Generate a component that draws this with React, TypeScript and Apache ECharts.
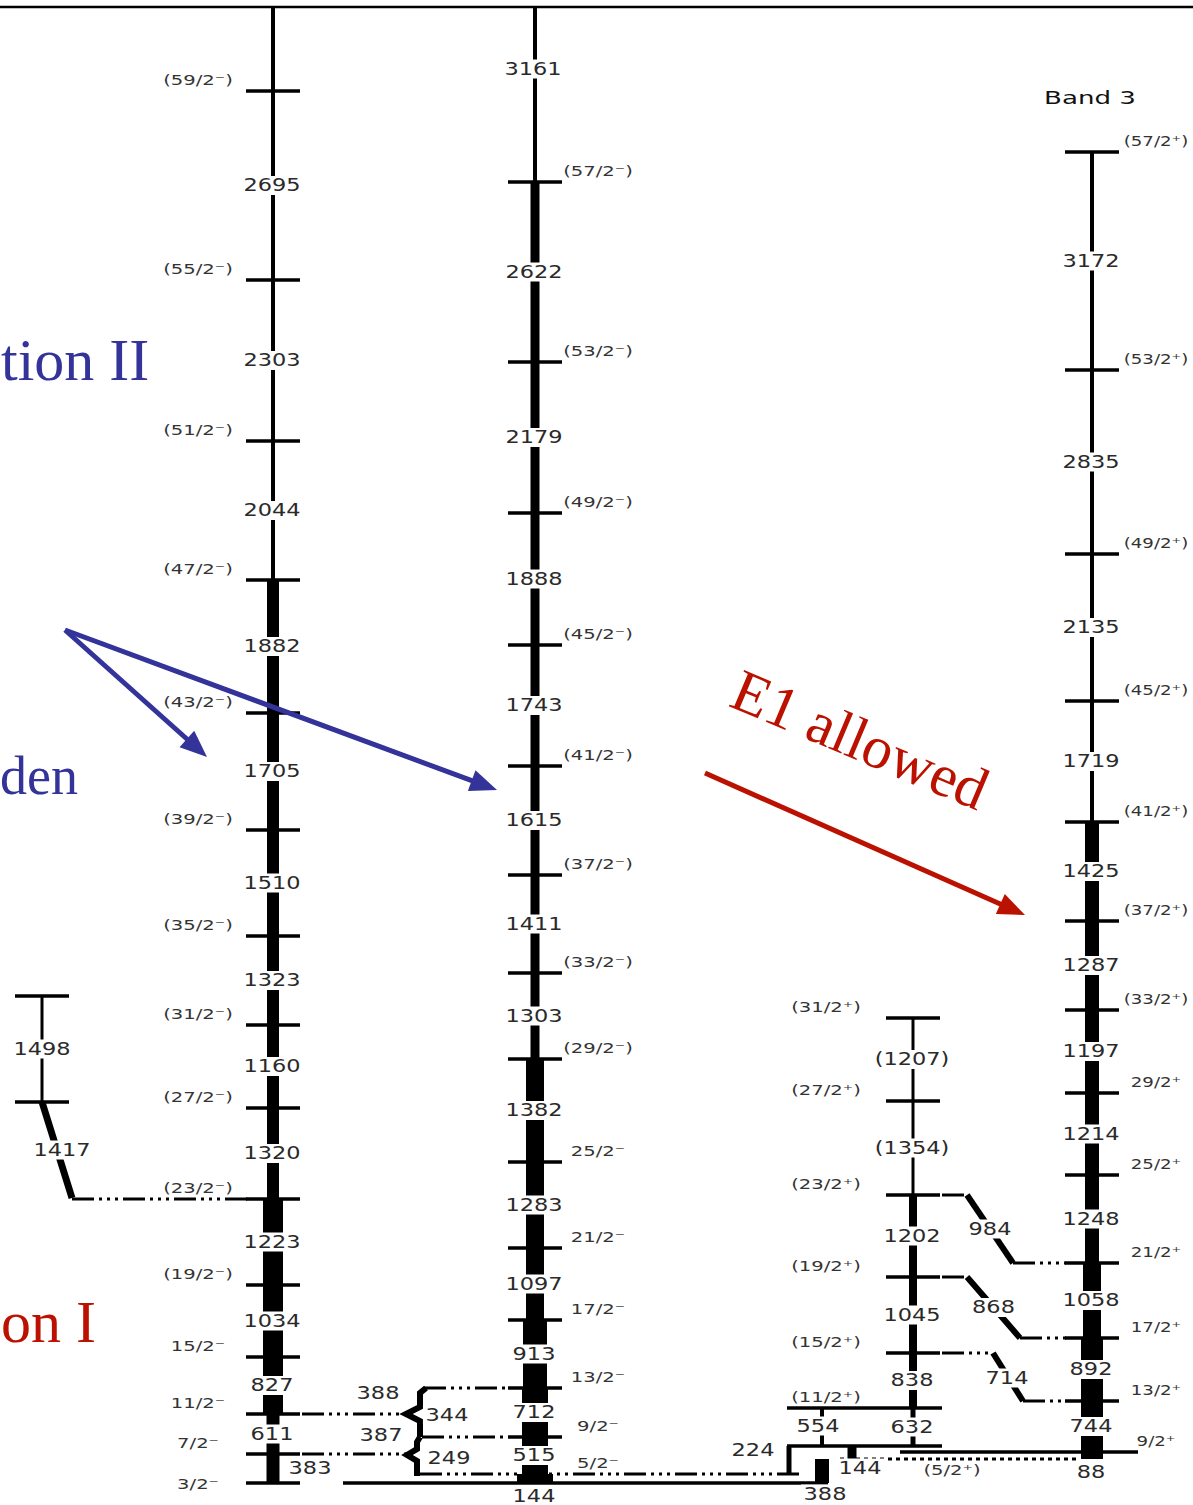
import React, { useEffect, useRef } from "react";
import * as echarts from "echarts";

const CHART_W = 1193;
const CHART_H = 1505;

// ---------------- level scheme data (diagram units: x across, y downward) ----------------
const bandCenters = { E: 42, A: 273, B: 535, C: 913, D: 1092 };
const spinLabelX = { E: 0, A: 198, B: 598, C: 826, D: 1156 };

// Band E (far left)
const levelsE = [996, 1102];
const spinsE = ["", ""];
const gammasE = ["1498"];
const intensityE = [3];

// Band A (negative parity, left)
const levelsA = [91, 280, 441, 580, 713, 830, 936, 1025, 1108, 1199, 1285, 1357, 1414, 1454, 1483];
const spinsA = ["(59/2⁻)", "(55/2⁻)", "(51/2⁻)", "(47/2⁻)", "(43/2⁻)", "(39/2⁻)", "(35/2⁻)", "(31/2⁻)", "(27/2⁻)", "(23/2⁻)", "(19/2⁻)", "15/2⁻", "11/2⁻", "7/2⁻", "3/2⁻"];
const gammasA = ["2695", "2303", "2044", "1882", "1705", "1510", "1323", "1160", "1320", "1223", "1034", "827", "611", "383"];
const intensityA = [4, 4, 4, 12, 12, 12, 12, 12, 12, 20, 20, 20, 13, 13];

// Band B (negative parity, middle)
const levelsB = [182, 362, 513, 645, 766, 875, 973, 1059, 1162, 1248, 1320, 1388, 1437, 1474, 1483];
const spinsB = ["(57/2⁻)", "(53/2⁻)", "(49/2⁻)", "(45/2⁻)", "(41/2⁻)", "(37/2⁻)", "(33/2⁻)", "(29/2⁻)", "25/2⁻", "21/2⁻", "17/2⁻", "13/2⁻", "9/2⁻", "5/2⁻", ""];
const gammasB = ["2622", "2179", "1888", "1743", "1615", "1411", "1303", "1382", "1283", "1097", "913", "712", "515", "144"];
const intensityB = [9, 9, 9, 9, 9, 9, 9, 18, 18, 18, 24, 26, 26, 36];
const topGammaB = "3161";
const topIntensityA = 4;
const topIntensityB = 4;

// Band C (positive parity, side band)
const levelsC = [1018, 1101, 1195, 1277, 1353, 1408, 1446];
const spinsC = ["(31/2⁺)", "(27/2⁺)", "(23/2⁺)", "(19/2⁺)", "(15/2⁺)", "(11/2⁺)", ""];
const gammasC = ["(1207)", "(1354)", "1202", "1045", "838", "632"];
const intensityC = [3, 3, 8, 8, 8, 5];

// Band D ("Band 3", positive parity)
const levelsD = [152, 370, 554, 701, 822, 921, 1010, 1093, 1175, 1263, 1338, 1401, 1452, 1459];
const spinsD = ["(57/2⁺)", "(53/2⁺)", "(49/2⁺)", "(45/2⁺)", "(41/2⁺)", "(37/2⁺)", "(33/2⁺)", "29/2⁺", "25/2⁺", "21/2⁺", "17/2⁺", "13/2⁺", "9/2⁺", ""];
const gammasD = ["3172", "2835", "2135", "1719", "1425", "1287", "1197", "1214", "1248", "1058", "892", "744", "88"];
const intensityD = [4, 4, 4, 4, 14, 14, 14, 14, 14, 18, 22, 22, 22];

// Inter-band transitions: label, from (x,y) to (x,y) of the thick diagonal part
const linkLabels = ["1417", "984", "868", "714"];
const linkDiagonals = [
  [42, 1102, 72, 1198],
  [967, 1195, 1013, 1263],
  [967, 1277, 1020, 1338],
  [993, 1353, 1023, 1401],
];
const linkDashes = [
  [72, 1199, 248, 1199],
  [942, 1195, 967, 1195], [1013, 1263, 1066, 1263],
  [942, 1277, 967, 1277], [1020, 1338, 1066, 1338],
  [942, 1353, 993, 1353], [1023, 1401, 1066, 1401],
  [302, 1414, 406, 1414],
  [302, 1454, 408, 1454],
  [424, 1388, 507, 1388],
  [422, 1437, 507, 1437],
];
// brace transitions between band A and band B
const braceLabels = ["388", "344", "387", "249"];
const braceLabelPos = [[378, 1393], [447, 1415], [381, 1435], [449, 1458]];
const braces = [
  [[426, 1388], [420, 1393], [420, 1407], [406, 1414], [420, 1421], [420, 1437]],
  [[420, 1437], [417, 1442], [417, 1449], [407, 1455], [417, 1461], [417, 1476]],
];
// low-lying transitions (bottom right)
const lowLabels = ["554", "224", "144", "388"];
const lowLabelPos = [[818, 1426], [753, 1450], [860, 1468], [825, 1494]];
const lowBars = [[822, 1408, 1446, 4], [789, 1446, 1474, 5], [852, 1446, 1459, 9], [822, 1459, 1483, 14]];

// special level extents: [band, levelIndex, x1, x2, kind(0 solid,1 dash-dot,2 dotted)]
const levelOverrides: [string, number, number, number, number][] = [
  ["B", 13, 420, 800, 1],
  ["B", 14, 343, 828, 0],
  ["C", 5, 787, 942, 0],
  ["C", 6, 787, 942, 0],
  ["D", 12, 900, 1138, 0],
  ["D", 13, 840, 1080, 2],
];

const BLUE = "#333399";
const RED = "#BB1100";
const arrows = [
  [65, 630, 207, 757, 0],
  [65, 630, 497, 790, 0],
  [705, 773, 1025, 915, 1],
];

// ---------------- build drawing rows ----------------
type Band = { key: string; cx: number; levels: number[]; spins: string[]; gammas: string[]; intensity: number[] };
const bands: Band[] = [
  { key: "E", cx: bandCenters.E, levels: levelsE, spins: spinsE, gammas: gammasE, intensity: intensityE },
  { key: "A", cx: bandCenters.A, levels: levelsA, spins: spinsA, gammas: gammasA, intensity: intensityA },
  { key: "B", cx: bandCenters.B, levels: levelsB, spins: spinsB, gammas: gammasB, intensity: intensityB },
  { key: "C", cx: bandCenters.C, levels: levelsC, spins: spinsC, gammas: gammasC, intensity: intensityC },
  { key: "D", cx: bandCenters.D, levels: levelsD, spins: spinsD, gammas: gammasD, intensity: intensityD },
];

const HALF = 27;
const segs: number[][] = [];
const bars: number[][] = [];
const diags: number[][] = [];
type TRow = { x: number; y: number; text: string; kind: number };
const texts: TRow[] = [];

segs.push([0, 7, CHART_W, 7, 2.5, 0]);

bands.forEach((b) => {
  b.levels.forEach((y, i) => {
    const ov = levelOverrides.find((o) => o[0] === b.key && o[1] === i);
    if (ov) segs.push([ov[2], y, ov[3], y, ov[4] === 0 ? 3.5 : 3, ov[4]]);
    else segs.push([b.cx - HALF, y, b.cx + HALF, y, 3.5, 0]);
    const s = b.spins[i];
    if (s) {
      const dy = b.key === "A" && i === b.levels.length - 1 ? 1 : -11;
      texts.push({ x: (spinLabelX as any)[b.key], y: y + dy, text: s, kind: b.key === "D" ? 3 : 1 });
    }
  });
  b.gammas.forEach((g, i) => {
    const y1 = b.levels[i];
    const y2 = b.levels[i + 1];
    bars.push([b.cx, y1, y2, b.intensity[i]]);
    let lx = b.cx - 1;
    let ly = (y1 + y2) / 2;
    if (b.key === "A" && g === "383") lx = b.cx + 37;
    if (b.key === "B" && g === "144") ly = y2 + 13;
    if (b.key === "D" && g === "88") ly = y2 + 13;
    if (b.key === "E") lx = b.cx;
    texts.push({ x: lx, y: ly, text: g, kind: 0 });
  });
});

// top extensions up to the frame
bars.push([bandCenters.A, 7, levelsA[0], topIntensityA]);
bars.push([bandCenters.B, 7, levelsB[0], topIntensityB]);
texts.push({ x: bandCenters.B - 2, y: 69, text: topGammaB, kind: 0 });

linkDiagonals.forEach((d, i) => {
  diags.push([d[0], d[1], d[2], d[3], i === 0 ? 7 : 6]);
  texts.push({ x: (d[0] + d[2]) / 2 + (i === 0 ? 5 : i === 3 ? -1 : 0), y: (d[1] + d[3]) / 2 + (i === 3 ? 1 : 0), text: linkLabels[i], kind: 0 });
});
linkDashes.forEach((d) => segs.push([d[0], d[1], d[2], d[3], 3, 1]));
braceLabels.forEach((l, i) => texts.push({ x: braceLabelPos[i][0], y: braceLabelPos[i][1], text: l, kind: 0 }));
lowBars.forEach((b) => bars.push(b));
lowLabels.forEach((l, i) => texts.push({ x: lowLabelPos[i][0], y: lowLabelPos[i][1], text: l, kind: 0 }));
texts.push({ x: 952, y: 1470, text: "(5/2⁺)", kind: 1 });
texts.push({ x: 1090, y: 98, text: "Band 3", kind: 2 });

const textKinds = [
  { font: "17px 'DejaVu Sans', sans-serif", scaleX: 1.32, fill: "#2a2a2a", bg: "#ffffff" },
  { font: "14px 'DejaVu Sans', sans-serif", scaleX: 1.4, fill: "#333333", bg: "" },
  { font: "18px 'DejaVu Sans', sans-serif", scaleX: 1.45, fill: "#111111", bg: "" },
  { font: "14px 'DejaVu Sans', sans-serif", scaleX: 1.3, fill: "#333333", bg: "" },
];

const DASHDOT = [22, 5, 3, 5, 3, 5, 3, 5];
const SERIF = "60px 'Liberation Serif', 'DejaVu Serif', serif";

export default function App() {
  const ref = useRef<HTMLDivElement>(null);
  useEffect(() => {
    document.body.style.margin = "0";
    if (!ref.current) return;
    const chart = echarts.init(ref.current, undefined, { renderer: "svg" });

    const option: any = {
      animation: false,
      backgroundColor: "#ffffff",
      grid: { left: 0, right: 0, top: 0, bottom: 0 },
      xAxis: { type: "value", min: 0, max: CHART_W, show: false },
      yAxis: { type: "value", min: 0, max: CHART_H, inverse: true, show: false },
      series: [
        {
          type: "custom",
          name: "transitions",
          coordinateSystem: "cartesian2d",
          silent: true,
          data: bars.map((b) => [b[0], b[1], b[2], b[3]]),
          encode: { x: 0, y: 1 },
          renderItem: (params: any, api: any) => {
            const b = bars[params.dataIndex];
            const p1 = api.coord([b[0], b[1]]);
            const p2 = api.coord([b[0], b[2]]);
            const w = b[3];
            return {
              type: "rect",
              shape: { x: p1[0] - w / 2, y: Math.min(p1[1], p2[1]), width: w, height: Math.abs(p2[1] - p1[1]) },
              style: { fill: "#000" },
            };
          },
        },
        {
          type: "custom",
          name: "levels",
          coordinateSystem: "cartesian2d",
          silent: true,
          data: segs.map((s) => [s[0], s[1]]),
          encode: { x: 0, y: 1 },
          renderItem: (params: any, api: any) => {
            const s = segs[params.dataIndex];
            const p1 = api.coord([s[0], s[1]]);
            const p2 = api.coord([s[2], s[3]]);
            const kind = s[5];
            return {
              type: "line",
              shape: { x1: p1[0], y1: p1[1], x2: p2[0], y2: p2[1] },
              style: {
                stroke: "#000",
                lineWidth: s[4],
                lineDash: kind === 1 ? DASHDOT : kind === 2 ? [4, 4] : null,
                lineCap: "butt",
              },
            };
          },
        },
        {
          type: "custom",
          name: "diagonals",
          coordinateSystem: "cartesian2d",
          silent: true,
          data: diags.map((d) => [d[0], d[1]]),
          encode: { x: 0, y: 1 },
          renderItem: (params: any, api: any) => {
            const d = diags[params.dataIndex];
            const p1 = api.coord([d[0], d[1]]);
            const p2 = api.coord([d[2], d[3]]);
            return {
              type: "line",
              shape: { x1: p1[0], y1: p1[1], x2: p2[0], y2: p2[1] },
              style: { stroke: "#000", lineWidth: d[4], lineCap: "butt" },
            };
          },
        },
        {
          type: "custom",
          name: "braces",
          coordinateSystem: "cartesian2d",
          silent: true,
          data: braces.map((b) => [b[0][0], b[0][1]]),
          encode: { x: 0, y: 1 },
          renderItem: (params: any, api: any) => {
            const pts = braces[params.dataIndex].map((p) => api.coord(p));
            return {
              type: "polyline",
              shape: { points: pts },
              style: { stroke: "#000", lineWidth: 6, fill: null, lineJoin: "miter" },
            };
          },
        },
        {
          type: "custom",
          name: "labels",
          coordinateSystem: "cartesian2d",
          silent: true,
          data: texts.map((t) => [t.x, t.y]),
          encode: { x: 0, y: 1 },
          renderItem: (params: any, api: any) => {
            const t = texts[params.dataIndex];
            const k = textKinds[t.kind];
            const p = api.coord([t.x, t.y]);
            const style: any = {
              legacy: false,
              text: t.text,
              x: 0,
              y: 0,
              font: k.font,
              fill: k.fill,
              align: "center",
              verticalAlign: "middle",
            };
            if (k.bg) {
              style.backgroundColor = k.bg;
              style.padding = [1, 2];
            }
            return { type: "text", x: p[0], y: p[1], scaleX: k.scaleX, style };
          },
        },
        {
          type: "custom",
          name: "arrows",
          coordinateSystem: "cartesian2d",
          silent: true,
          data: arrows.map((a) => [a[0], a[1]]),
          encode: { x: 0, y: 1 },
          renderItem: (params: any, api: any) => {
            const a = arrows[params.dataIndex];
            const color = a[4] === 0 ? BLUE : RED;
            const p1 = api.coord([a[0], a[1]]);
            const p2 = api.coord([a[2], a[3]]);
            const dx = p2[0] - p1[0];
            const dy = p2[1] - p1[1];
            const len = Math.hypot(dx, dy);
            const ux = dx / len;
            const uy = dy / len;
            const headL = 27;
            const headW = 11;
            const bx = p2[0] - ux * headL;
            const by = p2[1] - uy * headL;
            return {
              type: "group",
              children: [
                {
                  type: "line",
                  shape: { x1: p1[0], y1: p1[1], x2: bx + ux * 3, y2: by + uy * 3 },
                  style: { stroke: color, lineWidth: 5, lineCap: "butt" },
                },
                {
                  type: "polygon",
                  shape: { points: [[p2[0], p2[1]], [bx - uy * headW, by + ux * headW], [bx + uy * headW, by - ux * headW]] },
                  style: { fill: color },
                },
              ],
            };
          },
        },
      ],
      graphic: [
        {
          type: "text", x: 1, y: 360, silent: true,
          style: { legacy: false, text: "tion II", font: SERIF, fill: BLUE, align: "left", verticalAlign: "middle" },
        },
        {
          type: "text", x: 0, y: 776, silent: true,
          style: { legacy: false, text: "den", font: "54px 'Liberation Serif', 'DejaVu Serif', serif", fill: BLUE, align: "left", verticalAlign: "middle" },
        },
        {
          type: "text", x: 1, y: 1322, silent: true,
          style: { legacy: false, text: "on I", font: SERIF, fill: RED, align: "left", verticalAlign: "middle" },
        },
        {
          type: "text", x: 735, y: 687, rotation: -0.40, silent: true,
          style: { legacy: false, text: "E1 allowed", font: SERIF, fill: RED, align: "left", verticalAlign: "middle" },
        },
      ],
    };
    chart.setOption(option);
    return () => chart.dispose();
  }, []);
  return <div ref={ref} style={{ width: CHART_W, height: CHART_H }} />;
}
